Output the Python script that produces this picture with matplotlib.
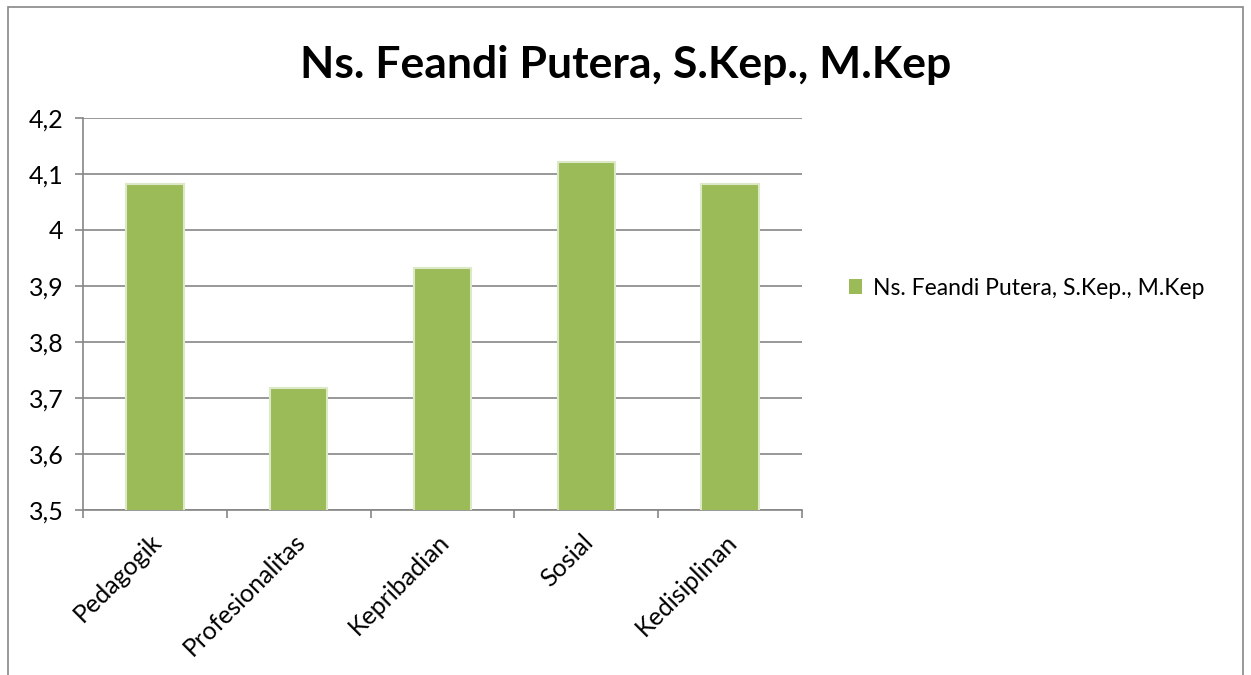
import matplotlib
matplotlib.use("Agg")
import matplotlib.pyplot as plt
from matplotlib.patches import Rectangle
from matplotlib.ticker import FixedLocator, FuncFormatter
from matplotlib.transforms import ScaledTranslation

title = "Ns. Feandi Putera, S.Kep., M.Kep"
series_name = "Ns. Feandi Putera, S.Kep., M.Kep"
categories = ["Pedagogik", "Profesionalitas", "Kepribadian", "Sosial", "Kedisiplinan"]
values = [4.083, 3.717, 3.932, 4.122, 4.083]
y_ticks = [3.5, 3.6, 3.7, 3.8, 3.9, 4.0, 4.1, 4.2]
y_tick_labels = ["3,5", "3,6", "3,7", "3,8", "3,9", "4", "4,1", "4,2"]

plt.rcParams['font.family'] = ['Lato', 'DejaVu Sans']

fig = plt.figure(figsize=(12.51, 6.75), dpi=100)
fig.patch.set_facecolor("white")
# outer frame
fig.patches.append(Rectangle((8/1251, -0.05), (1243-8)/1251, 1 - 7/675 + 0.05,
                             transform=fig.transFigure, fill=False,
                             edgecolor="#878787", linewidth=1.2))

ax = fig.add_axes([83/1251, 1-510/675, (802-83)/1251, (510-118)/675])
grid_c = "#868686"
bar_c = "#9BBB59"
x = list(range(len(categories)))
ax.bar(x, values, width=0.4, color=bar_c, zorder=3, label=series_name,
       edgecolor="#dde9c6", linewidth=1.5)

ax.set_ylim(3.5, 4.2)
ax.set_xlim(-0.5, len(categories) - 0.5)
ax.set_yticks(y_ticks)
ax.set_yticklabels(y_tick_labels)
ax.yaxis.grid(True, color=grid_c, linewidth=1.2, zorder=0)
ax.set_axisbelow(True)

for s in ["top", "right"]:
    ax.spines[s].set_visible(False)
for s in ["left", "bottom"]:
    ax.spines[s].set_color(grid_c)
    ax.spines[s].set_linewidth(1.2)

ax.tick_params(axis="y", direction="out", length=6, color=grid_c, width=1.2,
               labelsize=18, pad=8, labelcolor="black")
ax.xaxis.set_major_locator(FixedLocator([i - 0.5 for i in range(len(categories) + 1)]))
ax.xaxis.set_major_formatter(FuncFormatter(lambda v, p: ""))
ax.xaxis.set_minor_locator(FixedLocator(x))
ax.set_xticklabels(categories, minor=True)
ax.tick_params(axis="x", which="major", direction="out", length=6, color=grid_c, width=1.2)
ax.tick_params(axis="x", which="minor", length=0, labelsize=18, pad=20)
off = ScaledTranslation(3/100, 0, fig.dpi_scale_trans)
for lab in ax.get_xticklabels(minor=True):
    lab.set_rotation(45)
    lab.set_ha("right")
    lab.set_rotation_mode("anchor")
    lab.set_va("center")
    lab.set_transform(lab.get_transform() + off)

fig.text(626/1251, 1 - 65/675, title, ha="center", va="center",
         fontsize=32, fontweight="bold")

leg = fig.legend(loc="center left", bbox_to_anchor=(828/1251, 1 - 288/675),
                 frameon=False, fontsize=16.5, handlelength=0.6, handleheight=0.6,
                 handletextpad=0.45)
for h in leg.legend_handles:
    h.set_edgecolor(bar_c)
    h.set_linewidth(0)

fig.savefig("out.png", dpi=100, facecolor="white")
